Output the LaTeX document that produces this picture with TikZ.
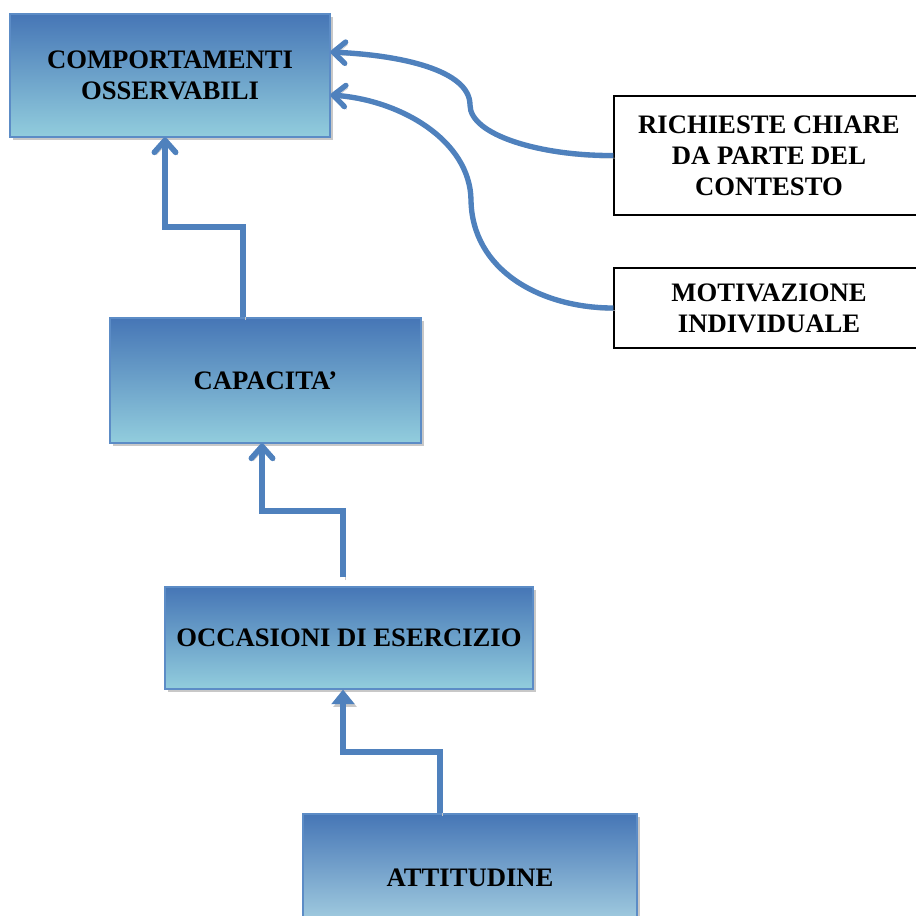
\documentclass[tikz,border=0pt]{standalone}
\usepackage{fontspec}
\setmainfont{Liberation Serif}
\usetikzlibrary{arrows.meta,shadows}
\definecolor{flowblue}{RGB}{79,129,189}
\definecolor{boxtop}{RGB}{70,118,182}
\definecolor{boxbottom}{RGB}{146,205,221}
\definecolor{boxline}{RGB}{92,140,198}
\definecolor{shadowgray}{RGB}{200,200,200}
\tikzset{
  stage/.style={draw=boxline,line width=0.8pt,top color=boxtop,bottom color=boxbottom,
    drop shadow={shadow xshift=2pt,shadow yshift=-2.5pt,fill=shadowgray,opacity=1},
    align=center,inner sep=4pt,font=\bfseries\fontsize{20}{23.2}\selectfont},
  factor/.style={draw=black,line width=0.8pt,fill=white,
    align=center,inner sep=4pt,font=\bfseries\fontsize{20}{23.2}\selectfont},
  flowshadow/.style={preaction={draw=shadowgray,transform canvas={shift={(1.5pt,-2pt)}}}},
  upflow/.style={-{Straight Barb[length=9pt,width=16pt,round]},line width=4.2pt,draw=flowblue,flowshadow},
  pushflow/.style={-{Triangle[length=11pt,width=17pt]},line width=4.2pt,draw=flowblue,flowshadow},
  sideflow/.style={-{Straight Barb[length=9pt,width=16pt,round]},line width=4pt,draw=flowblue,flowshadow}
}

\begin{document}
\begin{tikzpicture}[x=0.75pt,y=-0.75pt]
  \useasboundingbox (0,0) rectangle (916,915);
  \clip (0,0) rectangle (916,915);
  \node[stage,minimum width=240pt,minimum height=92.25pt] (comp) at (170,75.5)
    {COMPORTAMENTI\\OSSERVABILI};
  \node[stage,minimum width=233.25pt,minimum height=93.75pt] (cap) at (265.5,380.5)
    {CAPACITA’};
  \node[stage,minimum width=276pt,minimum height=76.5pt] (occ) at (349,638)
    {OCCASIONI DI ESERCIZIO};
  \node[stage,minimum width=250.5pt,minimum height=96pt,bottom color=boxbottom!70!white] (att) at (470,878)
    {ATTITUDINE};
  \node[factor,minimum width=232.5pt,minimum height=89.25pt] (rich) at (769,155.5)
    {RICHIESTE CHIARE\\DA PARTE DEL\\CONTESTO};
  \node[factor,minimum width=232.5pt,minimum height=60pt] (mot) at (769,308)
    {MOTIVAZIONE\\INDIVIDUALE};
  \coordinate (bendcap) at (165,227);
  \coordinate (bendocc) at (262,511);
  \coordinate (bendatt) at (343,752);
  \draw[upflow] ([xshift=-16.9pt]cap.north) |- (bendcap) -- (bendcap |- comp.south);
  \draw[upflow] ([xshift=-4.5pt,yshift=6.75pt]occ.north) |- (bendocc) -- (bendocc |- cap.south);
  \draw[pushflow] ([xshift=-22.5pt]att.north) |- (bendatt) -- (bendatt |- occ.south);
  \draw[sideflow] (rich.west) .. controls (540,156) and (470,135) .. (470,105)
    .. controls (470,70) and (400,55) .. ([yshift=17.6pt]comp.east);
  \draw[sideflow] (mot.west) .. controls (540,308) and (472,270) .. (471,200)
    .. controls (470,140) and (400,100) .. ([yshift=-14.6pt]comp.east);
\end{tikzpicture}
\end{document}
